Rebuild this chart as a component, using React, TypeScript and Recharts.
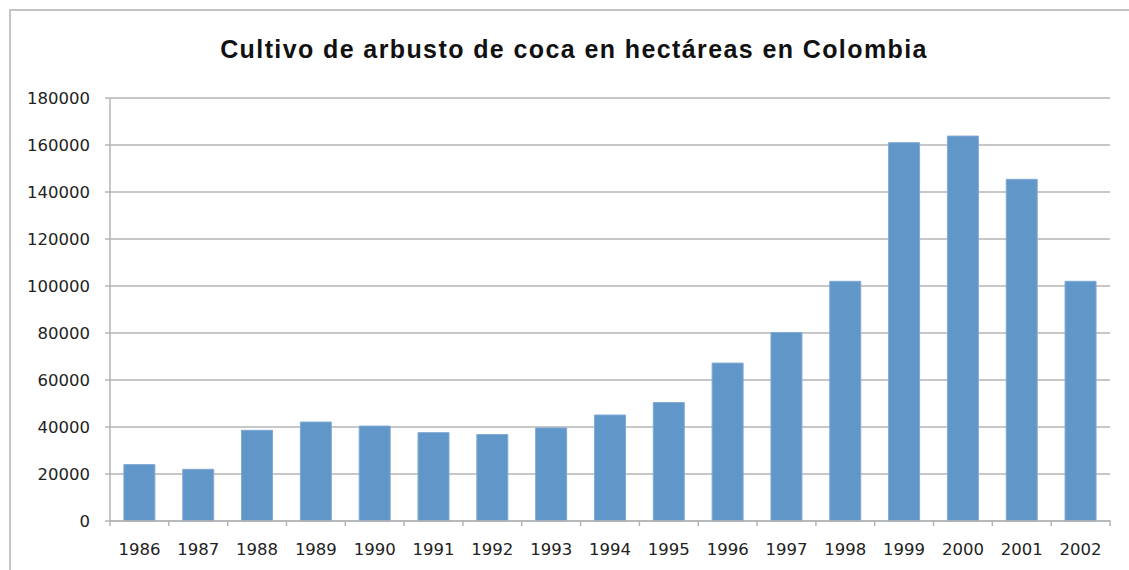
import React from 'react'
import { BarChart, Bar, XAxis, YAxis, CartesianGrid } from 'recharts'

const years = [
  '1986', '1987', '1988', '1989', '1990', '1991', '1992', '1993', '1994',
  '1995', '1996', '1997', '1998', '1999', '2000', '2001', '2002',
]
const hectares = [
  24000, 22000, 38600, 42100, 40400, 37600, 36800, 39600, 45100,
  50400, 67200, 80200, 102000, 161000, 163800, 145400, 102000,
]
const yTicks = [0, 20000, 40000, 60000, 80000, 100000, 120000, 140000, 160000, 180000]
const title = 'Cultivo de arbusto de coca en hectáreas en Colombia'

const data = years.map((year, i) => ({ year, value: hectares[i] }))

const W = 1129
const H = 570
const GRID = '#b4b4b4'
const BAR = '#6196c9'
const FONT = '"DejaVu Sans", sans-serif'

// year label plus the small separator ticks that sit between categories
function YearTick(props: any) {
  const { x, y, payload, index } = props
  const half = payload?.offset ?? (W - 129) / years.length / 2
  const axisY = y - 9
  return (
    <g>
      {index === 0 && (
        <line x1={x - half} x2={x - half} y1={axisY} y2={axisY + 6} stroke={GRID} strokeWidth={1.5} />
      )}
      <line x1={x + half} x2={x + half} y1={axisY} y2={axisY + 6} stroke={GRID} strokeWidth={1.5} />
      <text x={x} y={axisY + 35} textAnchor="middle" fontFamily={FONT} fontSize={16.5} fill="#222">
        {payload.value}
      </text>
    </g>
  )
}

export default function App() {
  return (
    <div style={{ position: 'absolute', left: 0, top: 0, width: W, height: H, overflow: 'hidden', background: '#fff' }}>
      <div
        style={{
          position: 'absolute',
          left: 9,
          top: 9,
          width: W + 20,
          height: H + 20,
          borderLeft: '2px solid #c4c4c4',
          borderTop: '2px solid #c4c4c4',
        }}
      />
      <div
        style={{
          position: 'absolute',
          left: 0,
          top: 35,
          width: 1148,
          textAlign: 'center',
          fontFamily: '"Liberation Sans", Arial, sans-serif',
          fontWeight: 'bold',
          fontSize: 25,
          letterSpacing: 1.4,
          color: '#111',
        }}
      >
        {title}
      </div>
      <div style={{ position: 'absolute', left: 0, top: 0 }}>
        <BarChart
          width={W}
          height={H}
          data={data}
          margin={{ top: 98, right: 19, left: 10, bottom: 19 }}
          barCategoryGap="23.6%"
        >
          <CartesianGrid vertical={false} stroke={GRID} strokeWidth={1.5} />
          <XAxis
            dataKey="year"
            axisLine={{ stroke: GRID, strokeWidth: 1.5 }}
            tickLine={false}
            height={30}
            interval={0}
            tick={<YearTick />}
          />
          <YAxis
            width={100}
            domain={[0, 180000]}
            ticks={yTicks}
            interval={0}
            axisLine={{ stroke: GRID, strokeWidth: 1.5 }}
            tickLine={{ stroke: GRID, strokeWidth: 1.5 }}
            tickSize={5}
            tickMargin={15}
            tick={{ fontFamily: FONT, fontSize: 16.5, fill: '#222' }}
          />
          <Bar dataKey="value" fill={BAR} stroke="#80aad6" strokeWidth={1} isAnimationActive={false} />
        </BarChart>
      </div>
    </div>
  )
}
